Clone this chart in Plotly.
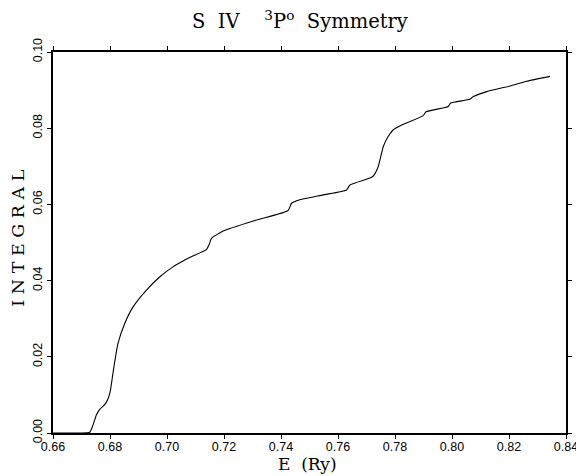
import plotly.graph_objects as go

energy = [0.660, 0.6694, 0.6729, 0.6740, 0.6752, 0.6764, 0.6782, 0.6792, 0.6801,
          0.6811, 0.6828, 0.6852, 0.6881, 0.6928, 0.6975, 0.7021, 0.7081, 0.7139,
          0.7148, 0.7156, 0.7197, 0.7314, 0.7425, 0.7437, 0.7466, 0.7548, 0.7630,
          0.7642, 0.7712, 0.7724, 0.7741, 0.7759, 0.7776, 0.7794, 0.7817, 0.7899,
          0.7909, 0.7987, 0.7995, 0.8063, 0.8075, 0.8122, 0.8204, 0.8262, 0.8344]
integral = [0.0, 0.0, 0.0002, 0.0020, 0.0047, 0.0062, 0.0075, 0.0088, 0.0110,
            0.0160, 0.0235, 0.0288, 0.0331, 0.0375, 0.0410, 0.0436, 0.0461, 0.0482,
            0.0495, 0.0511, 0.0530, 0.0559, 0.0584, 0.0603, 0.0612, 0.0625, 0.0638,
            0.0651, 0.0669, 0.0675, 0.0699, 0.0752, 0.0778, 0.0796, 0.0806, 0.0833,
            0.0843, 0.0857, 0.0866, 0.0876, 0.0883, 0.0896, 0.0911, 0.0923, 0.0936]

x_ticks = [0.66, 0.68, 0.70, 0.72, 0.74, 0.76, 0.78, 0.80, 0.82, 0.84]
y_ticks = [0.00, 0.02, 0.04, 0.06, 0.08, 0.10]

title_text = "S\u00a0\u00a0IV\u00a0\u00a0\u00a0\u00a0<sup>3</sup>P<sup>o</sup>\u00a0\u00a0Symmetry"
x_title = "E\u00a0\u00a0(Ry)"
y_title = "I\u00a0N\u00a0T\u00a0E\u00a0G\u00a0R\u00a0A\u00a0L"

fig = go.Figure()
fig.add_trace(go.Scatter(x=energy, y=integral, mode="lines",
                         line=dict(color="black", width=1.1, shape="spline", smoothing=0.5),
                         showlegend=False, hoverinfo="skip"))

serif = "DejaVu Serif"
sans = "Liberation Sans"
axis_common = dict(showline=True, linecolor="black", linewidth=1.5, mirror="allticks",
                   ticks="outside", ticklen=4, tickcolor="black", tickwidth=1.2,
                   showgrid=False, zeroline=False, automargin=False,
                   tickfont=dict(family=sans, size=12.5, color="black"))

# page body has an 8px default margin, so the figure is 8px smaller on each side
fig.update_layout(
    width=576, height=468,
    margin=dict(l=45, r=18, t=44, b=43),
    paper_bgcolor="white", plot_bgcolor="white",
    xaxis=dict(range=[0.66, 0.84], tickvals=x_ticks, ticklabelstandoff=-3,
               ticktext=[f"{v:.2f}" for v in x_ticks], **axis_common),
    yaxis=dict(range=[0, 0.10], tickvals=y_ticks,
               ticktext=[f"{v:.2f}" for v in y_ticks], tickangle=-90, **axis_common),
    annotations=[
        dict(text=title_text, xref="paper", yref="paper", x=0.4815, y=1,
             xanchor="center", yanchor="middle", yshift=32, showarrow=False,
             font=dict(family=serif, size=19.5, color="black")),
        dict(text=x_title, xref="paper", yref="paper", x=0.497, y=0,
             xanchor="center", yanchor="middle", yshift=-31, showarrow=False,
             font=dict(family=serif, size=17, color="black")),
        dict(text=y_title, xref="paper", yref="paper", x=0, y=0.51,
             xanchor="center", yanchor="middle", xshift=-35, textangle=-90,
             showarrow=False, font=dict(family=serif, size=17.5, color="black")),
    ],
)

fig.write_html("out.html")
